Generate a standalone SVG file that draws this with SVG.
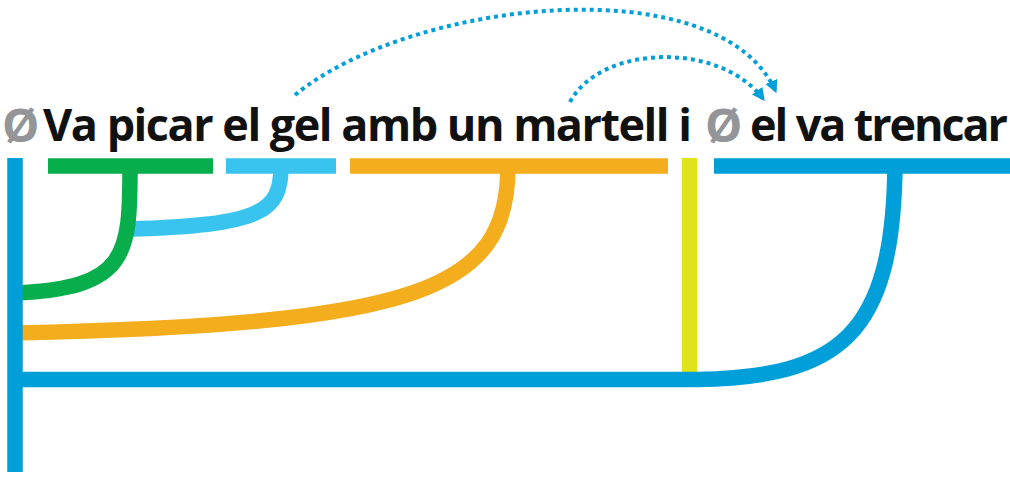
<svg xmlns="http://www.w3.org/2000/svg" width="1010" height="477" viewBox="0 0 1010 477">
<style>
.w{font-family:"Open Sans","Liberation Sans",sans-serif;font-weight:700;font-size:45px;fill:#111}
.z{fill:#939598;font-size:47px}
.ln{fill:none;stroke-width:15.5;stroke-linecap:butt}
.b{stroke:#009fd9}.g{stroke:#08ad4c}.lb{stroke:#38c4ef}.o{stroke:#f3ad1d}.y{stroke:#dfe31a}
.dot{fill:none;stroke:#009fd9;stroke-width:4;stroke-dasharray:4 4}
</style>
<defs>
<marker id="ah" viewBox="0 0 10 10" refX="9" refY="5" markerWidth="3.2" markerHeight="3.2" orient="auto" markerUnits="strokeWidth">
<path d="M0,0 L10,5 L0,10 Z" fill="#009fd9"/>
</marker>
</defs>
<g id="text">
<text class="w z" x="2" y="142">Ø</text>
<text class="w" x="43" y="141" textLength="649" lengthAdjust="spacing">Va picar el gel amb un martell i</text>
<text class="w z" x="705" y="142">Ø</text>
<text class="w" x="750" y="141" textLength="258" lengthAdjust="spacing">el va trencar</text>
</g>
<g id="connectors">
<path class="ln y" d="M689.5,158 V380"/>
<path class="ln lb" d="M281,166 C281,212 262,225 130,229"/>
<path class="ln g" d="M130,166 C130,255 128,288 15,293"/>
<path class="ln o" d="M508,166 C508,290 420,324 15,333"/>
<path class="ln b" d="M15,158 V472"/>
<path class="ln b" d="M15,379.5 H697 C840,377 893,335 895,166"/>
<path class="ln g" d="M48,166 H213"/>
<path class="ln lb" d="M226,166 H336"/>
<path class="ln o" d="M350,166 H668"/>
<path class="ln b" d="M714,166 H1010"/>
<path class="dot" d="M295,95 C410,0 720,-35 776,92" marker-end="url(#ah)"/>
<path class="dot" d="M570,102 C600,45 720,40 764,100" marker-end="url(#ah)"/>
</g>
</svg>
